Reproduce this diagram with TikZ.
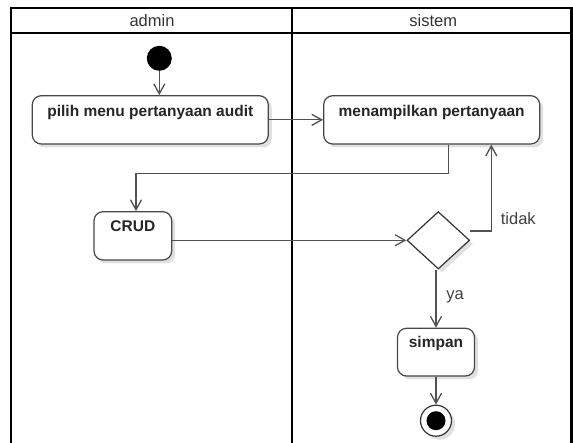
\documentclass[tikz,border=0pt]{standalone}
\usepackage{fontspec}
\setmainfont{Liberation Sans}
\usetikzlibrary{arrows.meta,shadows,shapes.geometric}
\begin{document}
\begin{tikzpicture}[x=1pt,y=-1pt,
  lane/.style={line width=2.2pt,draw=black},
  lanehead/.style={font=\fontsize{16.5}{19}\selectfont,text=black!80,inner sep=0pt},
  shad/.style={drop shadow={shadow xshift=3.5pt,shadow yshift=-3.5pt,opacity=0.12,fill=black}},
  act/.style={draw=black!72,line width=1.2pt,rounded corners=9pt,fill=white,shad,
    font=\bfseries\fontsize{15.5}{18}\selectfont,text=black!85,inner sep=0pt,align=center},
  flow/.style={draw=black!68,line width=1.3pt,-{Straight Barb[length=10pt,width=11pt]}},
  lbl/.style={font=\fontsize{16.5}{19}\selectfont,text=black!75,inner sep=0pt}]
\useasboundingbox (0,0) rectangle (573,443);
\fill[white] (0,0) rectangle (573,443);
% swimlanes
\draw[lane] (11,443) -- (11,8.3) -- (571.5,8.3) -- (571.5,443);
\draw[lane] (11,33.3) -- (571.5,33.3);
\draw[lane] (292,8.3) -- (292,443);
\node[lanehead] (h1) at (152,20.7) {admin};
\node[lanehead] (h2) at (433.3,20.7) {sistem};
% nodes
\node[circle,fill=black,minimum size=25pt,inner sep=0pt] (st) at (159.3,58.3) {};
\node[act,minimum width=236pt,text height=21pt,text depth=27.3pt] (a) at (150.3,119.85) {pilih menu pertanyaan audit};
\node[act,minimum width=216pt,text height=21pt,text depth=27.3pt] (m) at (431.7,119.85) {menampilkan pertanyaan};
\node[act,minimum width=77.7pt,text height=20pt,text depth=28.3pt] (c) at (132.85,235.85) {CRUD};
\node[diamond,draw=black!80,line width=1.2pt,fill=white,shad,minimum width=62.6pt,minimum height=57.4pt,inner sep=0pt] (d) at (438.3,240.3) {};
\node[act,minimum width=77pt,text height=19pt,text depth=28.7pt] (s) at (436,352.15) {simpan};
\node[circle,draw=black!80,line width=1.2pt,fill=white,shad,minimum size=31pt,inner sep=0pt] (en) at (436,420.7) {};
\node[circle,fill=black,minimum size=19pt,inner sep=0pt] (enc) at (en.center) {};
% connectors
\draw[flow] (st) -- (st |- a.north);
\draw[flow] (a.east) -- (m.west);
\draw[flow] ([xshift=17pt]m.south) -- ++(0,28.7) -| ([xshift=3.15pt]c.north);
\draw[flow] (c.east |- d.west) -- (d.west);
\draw[flow] ([yshift=9.3pt]d.east) -| ([xshift=59.6pt]m.south);
\draw[flow] (d.south -| s.north) -- (s.north);
\draw[flow] (s.south) -- (en.north);
% labels
\node[lbl] (t1) at (518.3,219) {tidak};
\node[lbl] (t2) at (455,297) {ya};
\end{tikzpicture}
\end{document}
